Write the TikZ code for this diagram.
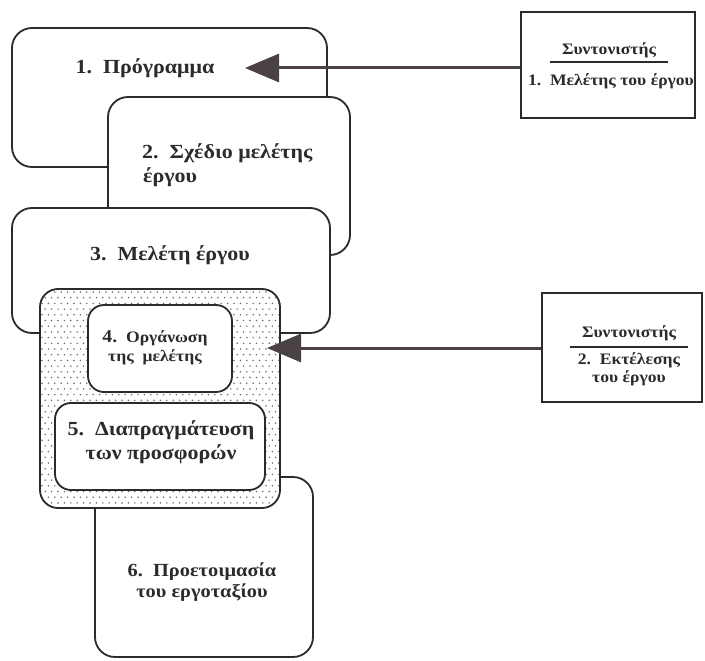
\documentclass[tikz,border=0pt]{standalone}
\usepackage{fontspec}
\setmainfont{Liberation Serif}[FakeStretch=1.1]
\usetikzlibrary{arrows.meta}
\definecolor{ink}{HTML}{2E2A2A}
\definecolor{arrowink}{HTML}{4A4242}
\tikzset{
  box/.style={draw=ink, line width=1.8pt, fill=white, rounded corners=20pt, inner sep=0pt},
  ibox/.style={draw=ink, line width=1.8pt, fill=white, rounded corners=16pt, inner sep=0pt},
  cbox/.style={draw=ink, line width=2.6pt, fill=white, inner sep=0pt},
  lbl/.style={font=\fontsize{20}{24}\selectfont\bfseries, text=ink, inner sep=0pt, align=center},
  slbl/.style={font=\fontsize{16}{19}\selectfont\bfseries, text=ink, inner sep=0pt, align=center},
  clbl/.style={font=\fontsize{16}{18}\selectfont\bfseries, text=ink, inner sep=0pt, align=center},
  arr/.style={draw=arrowink, line width=3pt, -{Triangle[length=34pt,width=28pt]}},
  rulel/.style={draw=ink, line width=2pt}
}
\begin{document}
\begin{tikzpicture}[x=1pt,y=-1pt]
\useasboundingbox (0,0) rectangle (705,661);
% box 1
\node[box, minimum width=315pt, minimum height=139pt] (b1) at (169.5,97.5) {};
\node[lbl] (t1) at (145,68) {1.\ \ Πρόγραμμα};
% box 2
\node[box, minimum width=242pt, minimum height=158pt] (b2) at (229,176) {};
\node[lbl, anchor=west] (t2a) at (142,153) {2.\ \ Σχέδιο μελέτης};
\node[lbl, anchor=west] (t2b) at (143,177) {έργου};
% box 3
\node[box, minimum width=318pt, minimum height=125pt] (b3) at (171,270.5) {};
\node[lbl] (t3) at (170,255) {3.\ \ Μελέτη έργου};
% box 6
\node[box, minimum width=218pt, minimum height=180pt] (b6) at (204,567) {};
\node[lbl, font=\fontsize{18.5}{21}\selectfont\bfseries] (t6) at (202,582) {6.\ \ Προετοιμασία\\του εργοταξίου};
% dotted box
\begin{scope}
  \clip[rounded corners=18pt] (40,289) rectangle (280,508);
  \fill[white] (40,289) rectangle (280,508);
  \foreach \j in {0,...,38} {
    \pgfmathsetmacro{\off}{mod(\j,2)*3.2}
    \foreach \i in {0,...,37} {
      \fill[ink!70] ({42+\off+6.4*\i},{292+5.7*\j}) circle (0.85pt);
    }
  }
\end{scope}
\node[draw=ink, line width=1.8pt, rounded corners=18pt, minimum width=240pt, minimum height=219pt, inner sep=0pt] (dz) at (160,398.5) {};
% box 4
\node[ibox, minimum width=144pt, minimum height=87pt] (b4) at (160,348.5) {};
\node[slbl] (t4) at (155,348) {{\fontsize{18}{19}\selectfont 4.}\ \ Οργάνωση\\της\ \ μελέτης};
% box 5
\node[ibox, minimum width=210pt, minimum height=87pt] (b5) at (160,446.5) {};
\node[lbl] (t5) at (161,442) {5.\ \ Διαπραγμάτευση\\των προσφορών};
% coordinator 1
\node[cbox, minimum width=174pt, minimum height=106pt] (c1) at (608,65) {};
\node[clbl] (c1a) at (609,50) {Συντονιστής};
\draw[rulel] (550,62) -- (668,62);
\node[clbl] (c1b) at (611,81) {1.\ \ Μελέτης του έργου};
% coordinator 2
\node[cbox, minimum width=160pt, minimum height=109pt] (c2) at (622,347.5) {};
\node[clbl] (c2a) at (629,333) {Συντονιστής};
\draw[rulel] (570,347) -- (688,347);
\node[clbl] (c2b) at (629,369) {2.\ \ Εκτέλεσης\\του έργου};
% arrows
\coordinate (p1) at (245,68);
\coordinate (p2) at (267,348);
\draw[arr] (c1.west |- p1) -- (p1);
\draw[arr] (c2.west |- p2) -- (p2);
\end{tikzpicture}
\end{document}
